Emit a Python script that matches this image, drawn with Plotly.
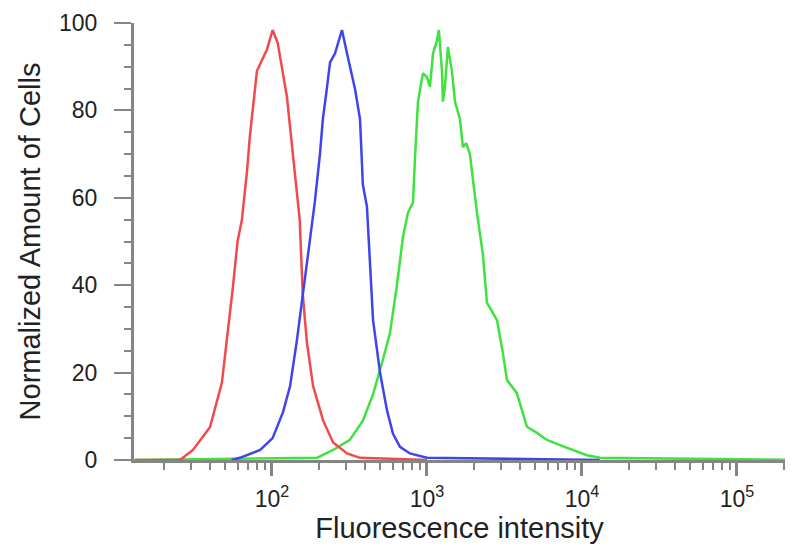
import plotly.graph_objects as go

# fluorescence intensity (x) and normalized counts (y)
red_x = [13, 25.5, 30.9, 39.8, 47.5, 52, 56, 60, 64, 69, 72, 80, 86, 93, 101, 109,
         125, 136, 151, 158, 168, 184, 214, 248, 305, 370, 1000]
red_y = [0, 0, 2.3, 7.5, 17.6, 29, 39.6, 50, 55, 66, 74, 89, 91.5, 94, 98.4, 95.4,
         83, 70, 55, 38, 27, 17, 9, 4, 1.5, 0.5, 0]

blue_x = [55, 62, 84, 101, 118, 131, 145, 158, 176, 189, 204, 213, 226, 237, 255,
          283, 305, 343, 370, 386, 410, 429, 449, 498, 552, 604, 670, 776, 1000, 13000]
blue_y = [0, 0.5, 2.3, 5, 11, 17, 27.5, 38, 50, 59, 70, 78, 85, 91, 93, 98.4,
          93, 85, 78, 63, 58, 43.5, 32, 20, 11.4, 6, 3, 1.5, 0.5, 0]

green_x = [13, 195, 248, 318, 386, 449, 520, 577, 640, 700, 753, 813, 837, 875, 942,
           1000, 1045, 1094, 1161, 1194, 1250, 1268, 1306, 1365, 1449, 1517, 1633,
           1706, 1791, 1892, 2104, 2296, 2438, 2831, 3090, 3281, 3802, 4416, 5129,
           5943, 7211, 8750, 10770, 13060, 250000]
green_y = [0, 0.5, 2.3, 4.6, 9, 15, 23, 29, 40, 51, 56.5, 59, 69, 82, 88.5,
           87.6, 85.4, 93, 96, 98.4, 89, 82, 85.4, 94.5, 89, 82, 78, 71.6, 72.5,
           70, 56.5, 47, 36, 32, 24.5, 18.3, 15.3, 7.6, 6.2, 4.6, 3.4, 2.3, 1.1, 0.5, 0]

x_tickvals = [100, 1000, 10000, 100000]
x_ticktext = ["10<sup>2</sup>", "10<sup>3</sup>", "10<sup>4</sup>", "10<sup>5</sup>"]
x_minor = [m * 10 ** e for e in range(1, 6) for m in range(2, 10)]

fig = go.Figure()
fig.add_trace(go.Scatter(x=green_x, y=green_y, mode="lines",
                         line=dict(color="#3fe23f", width=2.5)))
fig.add_trace(go.Scatter(x=red_x, y=red_y, mode="lines",
                         line=dict(color="#f24a4a", width=2.5)))
fig.add_trace(go.Scatter(x=blue_x, y=blue_y, mode="lines",
                         line=dict(color="#3f45ee", width=2.5)))

axis_col = "#858585"
# the page body adds an 8px offset, so margins are shifted to compensate
fig.update_layout(
    width=800, height=553, autosize=False, showlegend=False,
    paper_bgcolor="white", plot_bgcolor="white",
    margin=dict(l=126, r=23, t=15, b=101),
    font=dict(family="Liberation Sans, Arial, sans-serif", color="#222222", size=23),
)
fig.update_xaxes(
    type="log", range=[1.11, 5.31], automargin=False,
    tickmode="array", tickvals=x_tickvals, ticktext=x_ticktext,
    ticks="outside", ticklen=13, tickwidth=3, tickcolor=axis_col,
    ticklabelstandoff=3,
    minor=dict(tickmode="array", tickvals=x_minor, ticks="outside", ticklen=7,
               tickwidth=2, tickcolor=axis_col, showgrid=False),
    showline=True, linecolor=axis_col, linewidth=3,
    showgrid=False, zeroline=False,
    title=dict(text="Fluorescence intensity", font=dict(size=29), standoff=1),
)
fig.update_yaxes(
    range=[0, 100], tickvals=[0, 20, 40, 60, 80, 100], automargin=False,
    ticks="outside", ticklen=17, tickwidth=2, tickcolor=axis_col,
    ticklabelstandoff=12,
    minor=dict(dtick=5, ticks="outside", ticklen=7, tickwidth=2,
               tickcolor=axis_col, showgrid=False),
    showline=True, linecolor=axis_col, linewidth=3,
    showgrid=False, zeroline=False,
    title=dict(text="Normalized Amount of Cells", font=dict(size=29), standoff=10),
)

fig.write_html("out.html")
